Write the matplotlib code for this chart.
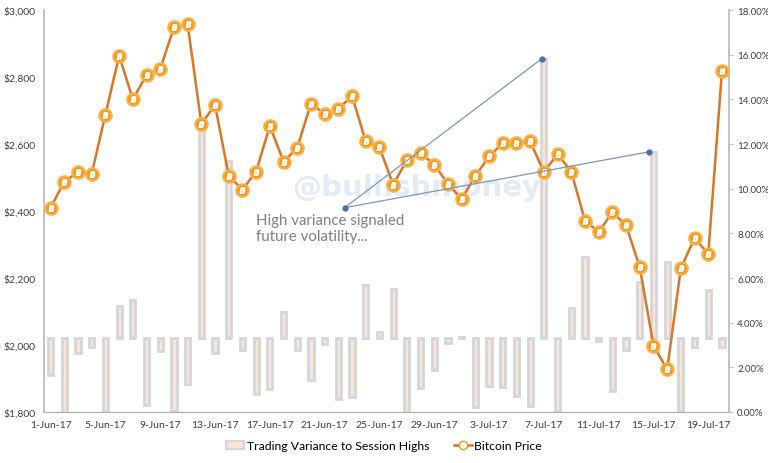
import matplotlib
matplotlib.use("Agg")
import matplotlib.pyplot as plt
from matplotlib.ticker import FuncFormatter, PercentFormatter
from matplotlib.patches import Patch
from matplotlib.lines import Line2D
import pandas as pd

# 数据: 1-Jun-17 .. 20-Jul-17
dates = pd.date_range("2017-06-01", "2017-07-20", freq="D")
price = [2410, 2488, 2516, 2512, 2688, 2864, 2734, 2806, 2824, 2949,
         2958, 2660, 2717, 2505, 2464, 2518, 2655, 2547, 2589, 2721,
         2690, 2705, 2744, 2608, 2590, 2479, 2552, 2573, 2539, 2481,
         2436, 2505, 2563, 2603, 2603, 2608, 2517, 2570, 2518, 2371,
         2338, 2396, 2358, 2232, 1998, 1927, 2229, 2319, 2272, 2819]
# variance bars: far end of each bar (%), bars start from the baseline
variance = [1.65, 0.0, 2.63, 2.93, 0.0, 4.76, 5.03, 0.31, 2.72, 0.04,
            1.25, 12.8, 2.63, 11.25, 2.79, 0.80, 1.03, 4.46, 2.78, 1.45,
            3.03, 0.58, 0.66, 5.69, 3.60, 5.51, 0.0, 1.06, 1.88, 3.09,
            3.36, 0.24, 1.15, 1.10, 0.73, 0.25, 15.8, 0.0, 4.66, 6.96,
            3.20, 0.95, 2.79, 5.84, 11.63, 6.70, 0.06, 2.93, 5.46, 2.93]
baseline = 3.3

tick_labels = [d.strftime("%-d-%b-%y") for d in dates]

# annotation (category index, price)
note_start = (21.45, 2410)
note_ends = [(35.85, 2855), (43.7, 2577)]

x = list(range(len(dates)))

plt.rcParams['font.family'] = ['Lato', 'DejaVu Sans']
fig = plt.figure(figsize=(7.68, 4.64), dpi=100)
ax = fig.add_axes([0.057, 0.110, 0.892, 0.866])
ax2 = ax.twinx()
ax.set_zorder(ax2.get_zorder() + 1)
ax.patch.set_visible(False)

# 柱子
bottoms = [min(v, baseline) for v in variance]
heights = [abs(v - baseline) for v in variance]
ax2.bar(x, heights, bottom=bottoms, width=0.38, color='#fbe6d4',
        edgecolor='#d5d6dc', linewidth=2.0)
ax2.set_ylim(0, 18)
ax2.set_yticks(range(0, 19, 2))
ax2.yaxis.set_major_formatter(PercentFormatter(decimals=2))

# 价格线
ax.plot(x, price, color='#d8762a', lw=1.8, marker='o', ms=9,
        mfc='#f39a1e', mec='#f8b24a', mew=1.5, zorder=4)
ax.plot(x, price, ls='none', marker='$B$', ms=4, color='white', zorder=5)
ax.set_ylim(1800, 3000)
ax.set_yticks(range(1800, 3001, 200))
ax.yaxis.set_major_formatter(FuncFormatter(lambda v, p: "${:,.0f}".format(v)))
ax.set_xlim(-0.5, len(x) - 0.5)
ax.set_xticks(x[::4])
ax.set_xticklabels(tick_labels[::4])

# watermark
ax.text(26.7, 2472, "@bullishmoney", fontsize=21, fontweight='bold',
        color='#e4ebf4', ha='center', va='center', zorder=1,
        family='DejaVu Sans')

# 注释
for ex, ey in note_ends:
    ax.plot([note_start[0], ex], [note_start[1], ey], color='#7d98b9', lw=0.9, zorder=6)
    ax.plot([ex], [ey], 'o', color='#4a72a6', ms=3.5, zorder=6)
ax.plot([note_start[0]], [note_start[1]], 'o', color='#4a72a6', ms=3.5, zorder=6)
ax.text(15.0, 2393, "High variance signaled\nfuture volatility...", fontsize=10.8,
        color='#808080', ha='left', va='top', linespacing=1.15, zorder=6)

for a in (ax, ax2):
    a.spines['top'].set_visible(False)
    a.spines['left'].set_color('#c4c4c4')
    a.spines['right'].set_color('#c4c4c4')
    a.spines['bottom'].set_color('#b0b0b0')
    a.spines['left'].set_linewidth(1.4)
    a.spines['right'].set_linewidth(1.4)
ax.tick_params(axis='y', labelsize=7.5, colors='#404040', length=0, pad=6)
ax.tick_params(axis='x', labelsize=7.5, colors='#404040', length=0, pad=6)
ax2.tick_params(axis='y', labelsize=7, colors='#404040', length=3,
                color='#c4c4c4', pad=3)

handles = [Patch(facecolor='#fbe6d4', edgecolor='#d5d6dc', linewidth=1.6),
           Line2D([], [], color='#d8762a', lw=1.8, marker='o', ms=6,
                  mfc='white', mec='#f39a1e')]
fig.legend(handles, ["Trading Variance to Session Highs", "Bitcoin Price"],
           loc='center', bbox_to_anchor=(0.5, 0.037), ncol=2, frameon=False,
           fontsize=8.8, handlelength=1.5, handletextpad=0.2, columnspacing=2.0)

fig.savefig("out.png", dpi=100)
